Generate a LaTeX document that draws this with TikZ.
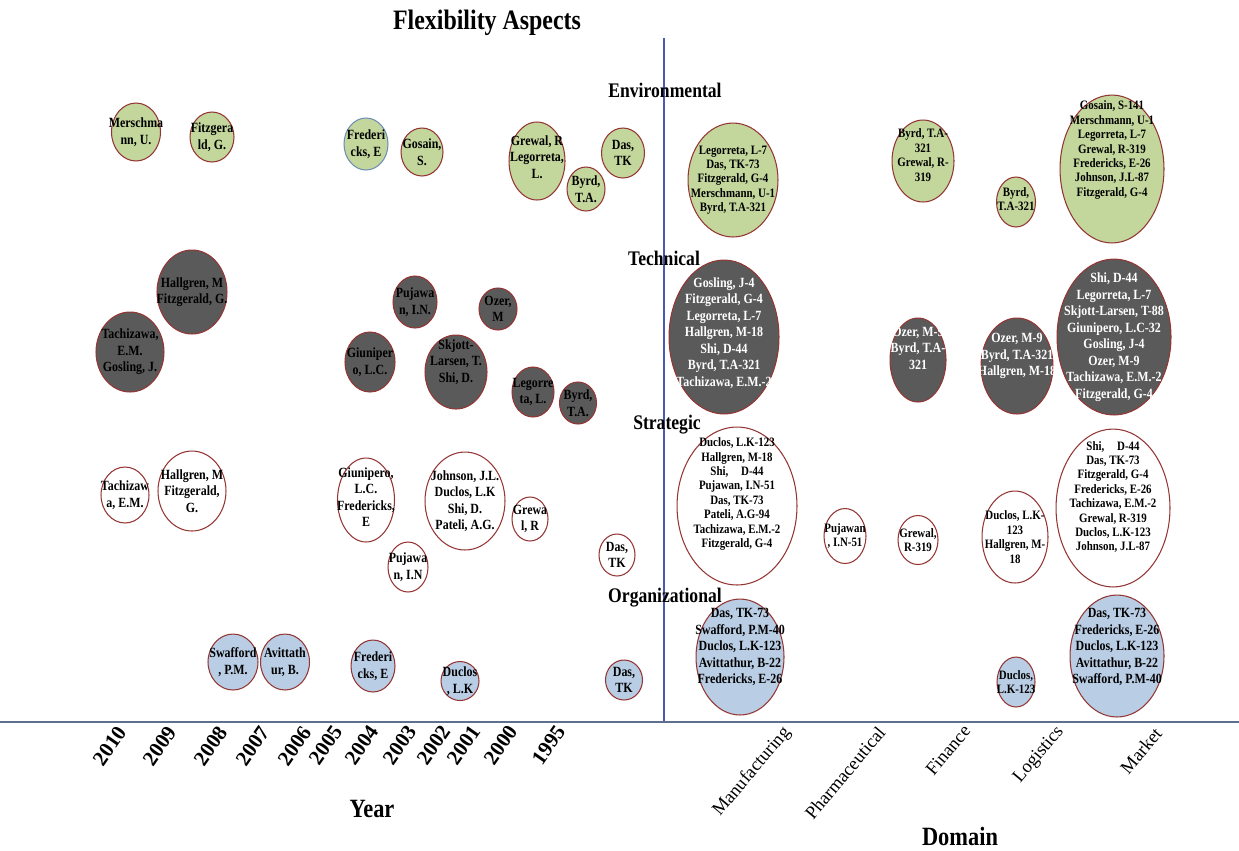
\documentclass[tikz,border=0pt]{standalone}
\usepackage{fontspec}
\setmainfont{Liberation Serif}[FakeStretch=0.85]
\newfontfamily\widefont{Liberation Serif}
\usetikzlibrary{shapes.geometric}

\definecolor{envfill}{HTML}{C3D69B}
\definecolor{techfill}{HTML}{5A5A5A}
\definecolor{orgfill}{HTML}{B9CDE5}
\definecolor{rim}{HTML}{943634}
\definecolor{bluerim}{HTML}{6F8FB5}
\definecolor{vaxis}{HTML}{4A5AAE}
\definecolor{haxis}{HTML}{5E6E8E}

\tikzset{
  bub/.style={ellipse, draw=rim, line width=0.6pt, inner sep=0pt},
  sz/.style 2 args={minimum width=#1*0.04cm, minimum height=#2*0.04cm},
  env/.style={bub, fill=envfill},
  tech/.style={bub, fill=techfill},
  strat/.style={bub, fill=white},
  org/.style={bub, fill=orgfill},
  lt/.style={align=center, inner sep=0pt, font=\bfseries\fontsize{8}{9.4}\selectfont},
  st/.style={align=center, inner sep=0pt, font=\bfseries\fontsize{7.3}{8.2}\selectfont},
  up/.style={yshift=#1*0.02cm},
  cat/.style={font=\bfseries\fontsize{11.8}{13}\selectfont},
  yr/.style={font=\widefont\bfseries\fontsize{12}{14}\selectfont, rotate=55},
  dom/.style={font=\widefont\fontsize{10.5}{12}\selectfont, rotate=50},
  axtitle/.style={font=\bfseries\fontsize{15}{17}\selectfont}
}

\begin{document}
\begin{tikzpicture}[x=0.02cm, y=-0.02cm]
\useasboundingbox (0,0) rectangle (1239,850);

% axes
\coordinate (vtop) at (664,38);
\coordinate (vbot) at (664,722);
\coordinate (hl) at (0,722);
\coordinate (hr) at (1239,722);
\draw[vaxis, line width=0.8pt] (vtop) -- (vbot);
\draw[haxis, line width=1.2pt] (hl) -- (hr);

% titles
\node[font=\bfseries\fontsize{16}{18}\selectfont] (title) at (487,23) {Flexibility Aspects};
\node[cat] (lenv) at (665,90) {Environmental};
\node[cat] (ltech) at (664,258) {Technical};
\node[cat] (lstrat) at (667,425) {Strategic};
\node[cat] (lorg) at (665,598) {Organizational};
\node[axtitle] (lyear) at (372,809) {Year};
\node[axtitle] (ldom) at (960,836) {Domain};

% year ticks
\node[yr] (y2010) at (110,746) {2010};
\node[yr] (y2009) at (160,746) {2009};
\node[yr] (y2008) at (211,746) {2008};
\node[yr] (y2007) at (253,746) {2007};
\node[yr] (y2006) at (295,746) {2006};
\node[yr] (y2005) at (326,745) {2005};
\node[yr] (y2004) at (362,745) {2004};
\node[yr] (y2003) at (400,745) {2003};
\node[yr] (y2002) at (434,745) {2002};
\node[yr] (y2001) at (464,745) {2001};
\node[yr] (y2000) at (501,745) {2000};
\node[yr] (y1995) at (549,745) {1995};

% domain ticks
\node[dom] (dman) at (752,772) {Manufacturing};
\node[dom] (dpha) at (845,773) {Pharmaceutical};
\node[dom] (dfin) at (948,750) {Finance};
\node[dom] (dlog) at (1039,755) {Logistics};
\node[dom] (dmar) at (1141,751) {Market};

% ---- Environmental ----
\node[env, sz={24.5}{29}] (e1) at (136,132) {};
\node[lt] (e1t) at (e1) {Merschma\\nn, U.};
\node[env, sz={22}{25}] (e2) at (212,137) {};
\node[lt] (e2t) at (e2) {Fitzgera\\ld, G.};
\node[env, sz={22}{26}, draw=bluerim] (e3) at (366,144) {};
\node[lt] (e3t) at (e3) {Frederi\\cks, E};
\node[env, sz={21}{24}] (e4) at (422,152) {};
\node[lt] (e4t) at (e4) {Gosain,\\S.};
\node[env, sz={28}{39}] (e5) at (537,161) {};
\node[lt, up=4] (e5t) at (e5) {Grewal, R\\Legorreta,\\L.};
\node[env, sz={19}{22}] (e6) at (586,189) {};
\node[lt] (e6t) at (e6) {Byrd,\\T.A.};
\node[env, sz={21.5}{25}] (e7) at (623,153) {};
\node[lt] (e7t) at (e7) {Das,\\TK};

\node[env, sz={45}{57}] (e8) at (733,180) {};
\node[st] (e8t) at (e8) {Legorreta, L-7\\Das, TK-73\\Fitzgerald, G-4\\Merschmann, U-1\\Byrd, T.A-321};
\node[env, sz={31}{41}] (e9) at (923,161) {};
\node[st, up=6] (e9t) at (e9) {Byrd, T.A-\\321\\Grewal, R-\\319};
\node[env, sz={19.5}{25}] (e10) at (1016,202) {};
\node[st, up=3] (e10t) at (e10) {Byrd,\\T.A-321};
\node[env, sz={52}{74}] (e11) at (1112,169) {};
\node[st, up=19] (e11t) at (e11) {Gosain, S-141\\Merschmann, U-1\\Legorreta, L-7\\Grewal, R-319\\Fredericks, E-26\\Johnson, J.L-87\\Fitzgerald, G-4};

% ---- Technical ----
\node[tech, sz={35}{42}] (t1) at (192,292) {};
\node[lt] (t1t) at (t1) {Hallgren, M\\Fitzgerald, G.};
\node[tech, sz={34}{40}] (t2) at (130,352) {};
\node[lt] (t2t) at (t2) {Tachizawa,\\E.M.\\Gosling, J.};
\node[tech, sz={25}{30}] (t3) at (370,362) {};
\node[lt] (t3t) at (t3) {Giuniper\\o, L.C.};
\node[tech, sz={22}{26}] (t4) at (415,302) {};
\node[lt] (t4t) at (t4) {Pujawa\\n, I.N.};
\node[tech, sz={19}{21}] (t5) at (498,309) {};
\node[lt] (t5t) at (t5) {Ozer,\\M};
\node[tech, sz={31}{37}] (t6) at (456,372) {};
\node[lt, up=10] (t6t) at (t6) {Skjott-\\Larsen, T.\\Shi, D.};
\node[tech, sz={21}{25}] (t7) at (533,392) {};
\node[lt] (t7t) at (t7) {Legorre\\ta, L.};
\node[tech, sz={18.5}{21}] (t8) at (578,403) {};
\node[lt] (t8t) at (t8) {Byrd,\\T.A.};

\node[tech, sz={55}{77}] (t9) at (724,337) {};
\node[lt, white, up=4] (t9t) at (t9) {Gosling, J-4\\Fitzgerald, G-4\\Legorreta, L-7\\Hallgren, M-18\\Shi, D-44\\Byrd, T.A-321\\Tachizawa, E.M.-2};
\node[tech, sz={28}{42}] (t10) at (918,360) {};
\node[lt, white, up=12] (t10t) at (t10) {Ozer, M-9\\Byrd, T.A-\\321};
\node[tech, sz={36}{48}] (t11) at (1017,366) {};
\node[lt, white, up=10] (t11t) at (t11) {Ozer, M-9\\Byrd, T.A-321\\Hallgren, M-18};
\node[tech, sz={57}{78}] (t12) at (1114,337) {};
\node[lt, white] (t12t) at (t12) {Shi, D-44\\Legorreta, L-7\\Skjott-Larsen, T-88\\Giunipero, L.C-32\\Gosling, J-4\\Ozer, M-9\\Tachizawa, E.M.-2\\Fitzgerald, G-4};

% ---- Strategic ----
\node[strat, sz={24}{28}] (s1) at (125,495) {};
\node[lt] (s1t) at (s1) {Tachizaw\\a, E.M.};
\node[strat, sz={34}{40}] (s2) at (192,491) {};
\node[lt] (s2t) at (s2) {Hallgren, M\\Fitzgerald,\\G.};
\node[strat, sz={28.5}{42}] (s3) at (366,500) {};
\node[lt, up=3] (s3t) at (s3) {Giunipero,\\L.C.\\Fredericks,\\E};
\node[strat, sz={20}{25}] (s4) at (408,567) {};
\node[lt] (s4t) at (s4) {Pujawa\\n, I.N};
\node[strat, sz={40}{49}] (s5) at (465,501) {};
\node[lt] (s5t) at (s5) {Johnson, J.L.\\Duclos, L.K\\Shi, D.\\Pateli, A.G.};
\node[strat, sz={18}{22}] (s6) at (530,519) {};
\node[lt] (s6t) at (s6) {Grewa\\l, R};
\node[strat, sz={18}{21}] (s7) at (617,555) {};
\node[lt] (s7t) at (s7) {Das,\\TK};

\node[strat, sz={60}{79}] (s8) at (737,506) {};
\node[st, up=12] (s8t) at (s8) {Duclos, L.K-123\\Hallgren, M-18\\Shi,\quad D-44\\Pujawan, I.N-51\\Das, TK-73\\Pateli, A.G-94\\Tachizawa, E.M.-2\\Fitzgerald, G-4};
\node[strat, sz={21}{27.5}] (s9) at (845,536) {};
\node[st] (s9t) at (s9) {Pujawan\\, I.N-51};
\node[strat, sz={20}{24.5}] (s10) at (918,540) {};
\node[st] (s10t) at (s10) {Grewal,\\R-319};
\node[strat, sz={33}{46}] (s11) at (1015,537) {};
\node[st] (s11t) at (s11) {Duclos, L.K-\\123\\Hallgren, M-\\18};
\node[strat, sz={57}{79}] (s12) at (1113,508) {};
\node[st, up=11] (s12t) at (s12) {Shi,\quad D-44\\Das, TK-73\\Fitzgerald, G-4\\Fredericks, E-26\\Tachizawa, E.M.-2\\Grewal, R-319\\Duclos, L.K-123\\Johnson, J.L-87};

% ---- Organizational ----
\node[org, sz={25}{28}] (o1) at (233,662) {};
\node[lt] (o1t) at (o1) {Swafford\\, P.M.};
\node[org, sz={24.5}{28}] (o2) at (285,662) {};
\node[lt] (o2t) at (o2) {Avittath\\ur, B.};
\node[org, sz={22}{26}] (o3) at (373,666) {};
\node[lt] (o3t) at (o3) {Frederi\\cks, E};
\node[org, sz={19}{19.5}] (o4) at (460,681) {};
\node[lt] (o4t) at (o4) {Duclos\\, L.K};
\node[org, sz={18.5}{20}] (o5) at (624,680) {};
\node[lt] (o5t) at (o5) {Das,\\TK};

\node[org, sz={44}{58}] (o6) at (740,657) {};
\node[lt, up=10] (o6t) at (o6) {Das, TK-73\\Swafford, P.M-40\\Duclos, L.K-123\\Avittathur, B-22\\Fredericks, E-26};
\node[org, sz={19}{25}] (o7) at (1016,682) {};
\node[st] (o7t) at (o7) {Duclos,\\L.K-123};
\node[org, sz={47}{61}] (o8) at (1117,656) {};
\node[lt, up=9] (o8t) at (o8) {Das, TK-73\\Fredericks, E-26\\Duclos, L.K-123\\Avittathur, B-22\\Swafford, P.M-40};

\end{tikzpicture}
\end{document}
